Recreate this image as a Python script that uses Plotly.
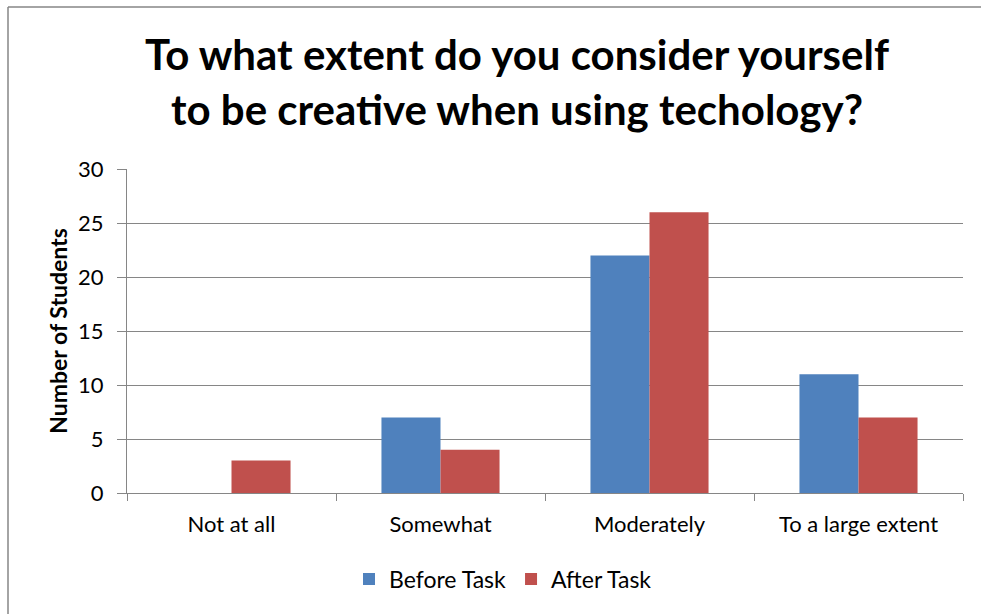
import plotly.graph_objects as go

categories = ["Not at all", "Somewhat", "Moderately", "To a large extent"]
before_task = [0, 7, 22, 11]
after_task = [3, 4, 26, 7]
y_ticks = [0, 5, 10, 15, 20, 25, 30]

W, H = 981, 614
L, R, T, B = 127, 18, 169, 121
pw, ph = W - L - R, H - T - B

def px_x(px):
    return (px - L) / pw

def px_y(py):
    return (H - B - py) / ph

fig = go.Figure()
fig.add_trace(go.Bar(name="Before Task", x=categories, y=before_task,
                     marker=dict(color="#4F81BD", line=dict(width=0))))
fig.add_trace(go.Bar(name="After Task", x=categories, y=after_task,
                     marker=dict(color="#C0504D", line=dict(width=0))))

border = dict(color="#868686", width=1.5)

fig.update_layout(
    width=W, height=H,
    margin=dict(l=L, r=R, t=T, b=B),
    paper_bgcolor="white", plot_bgcolor="white",
    barmode="group", bargap=0.435, bargroupgap=0,
    font=dict(family="Lato, Carlito, sans-serif", color="#000000"),
    title=dict(text="To what extent do you consider yourself<br>to be creative when using techology?",
               font=dict(size=42, family="Lato, sans-serif", color="#000000", weight="bold"),
               x=517 / W, xanchor="center", y=1 - 70 / H, yanchor="middle"),
    xaxis=dict(type="category", tickson="boundaries", ticks="outside", ticklen=7,
               tickcolor="#868686", showline=True, linecolor="#868686", linewidth=1,
               showgrid=False, tickfont=dict(size=22), ticklabelstandoff=12),
    yaxis=dict(range=[0, 30], tickvals=y_ticks, ticks="outside", ticklen=9,
               tickcolor="#868686", showline=True, linecolor="#868686", linewidth=1,
               showgrid=True, gridcolor="#868686", gridwidth=1, zeroline=False,
               tickfont=dict(size=22), ticklabelstandoff=9,
               title=dict(text="<b>Number of Students</b>", font=dict(size=23), standoff=4)),
    legend=dict(orientation="h", x=px_x(503), xanchor="center", y=px_y(579), yanchor="middle",
                font=dict(size=23), itemsizing="constant", traceorder="normal",
                itemwidth=30),
    shapes=[
        dict(type="line", xref="paper", yref="paper",
             x0=px_x(8), x1=px_x(8), y0=px_y(630), y1=px_y(7), line=border, layer="below"),
        dict(type="line", xref="paper", yref="paper",
             x0=px_x(8), x1=px_x(1010), y0=px_y(7), y1=px_y(7), line=border, layer="below"),
    ],
)

fig.write_html("out.html", config={"displayModeBar": False},
               post_script="document.body.style.margin='0';document.body.style.overflow='hidden';"
                           "document.documentElement.style.overflow='hidden';")
